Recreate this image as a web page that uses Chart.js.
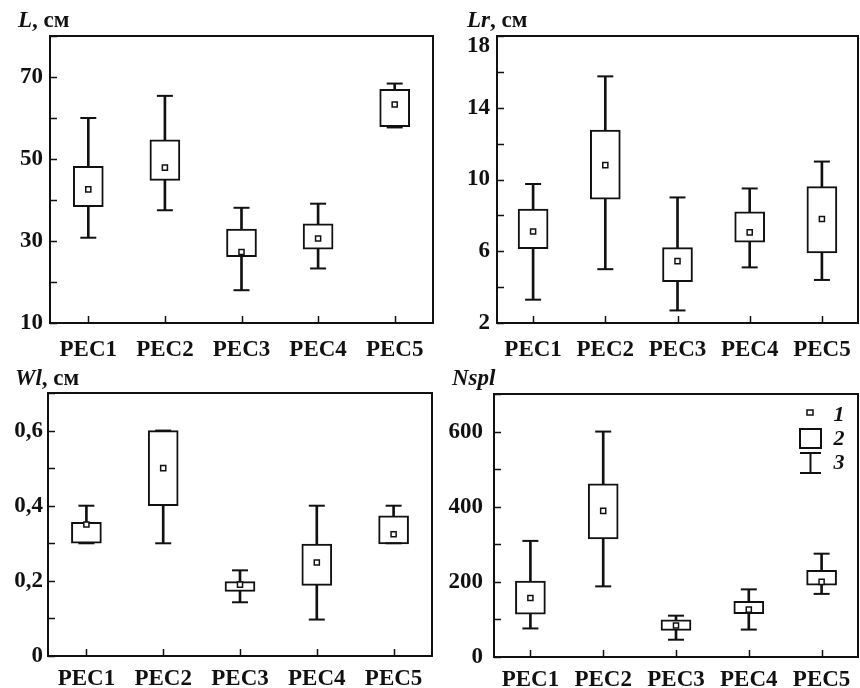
<!DOCTYPE html>
<html>
<head>
<meta charset="utf-8">
<script src="https://cdn.jsdelivr.net/npm/chart.js@4.4.1/dist/chart.umd.min.js"></script>
<style>
  body { margin: 0; background: #fff; width: 860px; height: 688px; position: relative; overflow: hidden; }
  .pane { position: absolute; }
  .ttl { position: absolute; font-family: "Liberation Serif", serif; font-weight: bold; font-size: 23px; line-height: 1; color: #111; white-space: nowrap; }
  .ttl i { font-style: italic; }
</style>
</head>
<body>
<canvas id="c1" class="pane" width="436" height="360" style="left:0;top:0"></canvas>
<canvas id="c2" class="pane" width="424" height="360" style="left:436px;top:0"></canvas>
<canvas id="c3" class="pane" width="436" height="328" style="left:0;top:360px"></canvas>
<canvas id="c4" class="pane" width="424" height="328" style="left:436px;top:360px"></canvas>
<div class="ttl" style="left:18px;top:8px"><i>L</i>, см</div>
<div class="ttl" style="left:467px;top:8px"><i>Lr</i>, см</div>
<div class="ttl" style="left:15px;top:366px"><i>Wl</i>, см</div>
<div class="ttl" style="left:452px;top:366px"><i>Nspl</i></div>
<script>
const categories = ['PEC1', 'PEC2', 'PEC3', 'PEC4', 'PEC5'];

// L, cm
const lMin  = [30.8, 37.5, 18.0, 23.3, 57.7];
const lQ1   = [38.4, 44.8, 26.2, 28.0, 57.9];
const lMean = [42.6, 47.9, 27.3, 30.6, 63.3];
const lQ3   = [48.2, 54.7, 32.9, 34.2, 67.0];
const lMax  = [60.0, 65.4, 38.1, 39.1, 68.4];
const lLabels = [10, 30, 50, 70];

// Lr, cm
const lrMin  = [3.3, 5.0, 2.7, 5.1, 4.4];
const lrQ1   = [6.15, 8.9, 4.3, 6.5, 5.9];
const lrMean = [7.1, 10.8, 5.45, 7.05, 7.8];
const lrQ3   = [8.35, 12.75, 6.2, 8.2, 9.6];
const lrMax  = [9.75, 15.75, 9.0, 9.5, 11.0];
const lrLabels = [2, 6, 10, 14, 18];

// Wl, cm
const wlMin  = [0.3, 0.3, 0.143, 0.097, 0.3];
const wlQ1   = [0.3, 0.4, 0.172, 0.188, 0.298];
const wlMean = [0.35, 0.5, 0.19, 0.249, 0.324];
const wlQ3   = [0.356, 0.6, 0.198, 0.298, 0.373];
const wlMax  = [0.4, 0.6, 0.228, 0.4, 0.4];
const wlLabels = [0, 0.2, 0.4, 0.6];

// Nspl
const nMin  = [76, 188, 46, 73, 168];
const nQ1   = [114, 314, 71, 115, 191];
const nMean = [157, 389, 84, 126, 200];
const nQ3   = [202, 461, 99, 148, 231];
const nMax  = [309, 600, 110, 180, 275];
const nLabels = [0, 200, 400, 600];

const FONT = "'Liberation Serif', serif";

// frame + inward ticks (+ top label pushed below the frame when asked)
const framePlugin = {
  id: 'frame',
  afterDraw(chart) {
    const ctx = chart.ctx, a = chart.chartArea;
    const y = chart.scales.y, x = chart.scales.x;
    ctx.save();
    ctx.strokeStyle = '#111';
    ctx.lineWidth = 2;
    ctx.strokeRect(a.left, a.top, a.right - a.left, a.bottom - a.top);
    ctx.lineWidth = 1.5;
    ctx.beginPath();
    y.ticks.forEach(t => {
      const py = Math.round(y.getPixelForValue(t.value)) + 0.5;
      ctx.moveTo(a.left, py); ctx.lineTo(a.left + 7, py);
    });
    categories.forEach((c, i) => {
      const px = Math.round(x.getPixelForValue(i)) + 0.5;
      ctx.moveTo(px, a.bottom); ctx.lineTo(px, a.bottom - 7);
    });
    ctx.stroke();
    const top = chart.options.plugins.frame.topLabel;
    if (top !== undefined) {
      ctx.fillStyle = '#111';
      ctx.font = 'bold 23px ' + FONT;
      ctx.textAlign = 'right';
      ctx.textBaseline = 'middle';
      ctx.fillText(String(top), a.left - 7, y.getPixelForValue(top) + 10);
    }
    ctx.restore();
  }
};

const legendPlugin = {
  id: 'keyBox',
  afterDraw(chart) {
    const o = chart.options.plugins.keyBox;
    if (!o || !o.show) return;
    const ctx = chart.ctx, a = chart.chartArea;
    const r = a.right, t = a.top;
    ctx.save();
    ctx.strokeStyle = '#111';
    ctx.fillStyle = '#fff';
    ctx.lineWidth = 1.5;
    ctx.fillRect(r - 51, t + 16, 6, 5);
    ctx.strokeRect(r - 51, t + 16, 6, 5);
    ctx.lineWidth = 2;
    ctx.strokeRect(r - 58, t + 35, 21, 19);
    ctx.beginPath();
    ctx.moveTo(r - 58, t + 59); ctx.lineTo(r - 37, t + 59);
    ctx.moveTo(r - 47.5, t + 59); ctx.lineTo(r - 47.5, t + 79);
    ctx.moveTo(r - 58, t + 79); ctx.lineTo(r - 37, t + 79);
    ctx.stroke();
    ctx.fillStyle = '#111';
    ctx.font = "italic bold 22px " + FONT;
    ctx.textAlign = 'center';
    ctx.textBaseline = 'middle';
    ctx.fillText('1', r - 19, t + 21);
    ctx.fillText('2', r - 19, t + 45);
    ctx.fillText('3', r - 19, t + 69);
    ctx.restore();
  }
};

function boxChart(id, mins, q1, mean, q3, maxs, yMin, yMax, step, labels, fmt, pad, yW, xH, yPad, xPad, legend, topLabel) {
  const ctx = document.getElementById(id).getContext('2d');
  return new Chart(ctx, {
    type: 'bar',
    data: {
      labels: categories,
      datasets: [
        {
          type: 'line', data: mean, showLine: false, order: 1,
          pointStyle: 'rect', pointRadius: 3.6, pointBackgroundColor: '#fff',
          pointBorderColor: '#111', pointBorderWidth: 1.5
        },
        {
          type: 'line', data: maxs, showLine: false, order: 2,
          pointStyle: 'line', pointRadius: 8, pointBorderColor: '#111', pointBorderWidth: 2
        },
        {
          type: 'line', data: mins, showLine: false, order: 2,
          pointStyle: 'line', pointRadius: 8, pointBorderColor: '#111', pointBorderWidth: 2
        },
        {
          data: q1.map((v, i) => [v, q3[i]]), order: 3, grouped: false,
          backgroundColor: '#fff', borderColor: '#111', borderWidth: 2,
          borderSkipped: false, barThickness: 30
        },
        {
          data: mins.map((v, i) => [v, maxs[i]]), order: 4, grouped: false,
          backgroundColor: '#111', borderWidth: 0, barThickness: 2
        }
      ]
    },
    options: {
      responsive: false,
      animation: false,
      layout: { padding: pad, autoPadding: false },
      plugins: {
        legend: { display: false }, tooltip: { enabled: false },
        keyBox: { show: legend }, frame: { topLabel: topLabel }
      },
      scales: {
        x: {
          grid: { display: false, drawTicks: false }, border: { display: false },
          ticks: { color: '#111', font: { family: FONT, size: 23, weight: 'bold' }, padding: xPad, maxRotation: 0 },
          afterFit(s) { s.height = xH; s.paddingLeft = 0; s.paddingRight = 0; }
        },
        y: {
          min: yMin, max: yMax,
          grid: { display: false, drawTicks: false }, border: { display: false },
          ticks: {
            stepSize: step, color: '#111', padding: yPad,
            font: { family: FONT, size: 23, weight: 'bold' },
            callback(v) {
              const hit = labels.find(l => Math.abs(l - v) < step / 100);
              if (hit === undefined || hit === topLabel) return '';
              return fmt(hit);
            }
          },
          afterFit(s) { s.width = yW; s.paddingTop = 0; s.paddingBottom = 0; }
        }
      }
    },
    plugins: [framePlugin, legendPlugin]
  });
}

const plain = v => String(v);
const comma = v => v === 0 ? '0' : v.toFixed(1).replace('.', ',');

boxChart('c1', lMin, lQ1, lMean, lQ3, lMax, 10, 80, 10, lLabels, plain,
  { left: 0, top: 36, right: 3, bottom: 0 }, 50, 37, 7, 13, false);
boxChart('c2', lrMin, lrQ1, lrMean, lrQ3, lrMax, 2, 18, 2, lrLabels, plain,
  { left: 0, top: 36, right: 2, bottom: 0 }, 61, 37, 7, 13, false, 18);
boxChart('c3', wlMin, wlQ1, wlMean, wlQ3, wlMax, 0, 0.7, 0.1, wlLabels, comma,
  { left: 0, top: 33, right: 4, bottom: 0 }, 48, 32, 5, 9, false);
boxChart('c4', nMin, nQ1, nMean, nQ3, nMax, 0, 700, 100, nLabels, plain,
  { left: 0, top: 34, right: 2, bottom: 0 }, 58, 31, 11, 9, true);
</script>
</body>
</html>
